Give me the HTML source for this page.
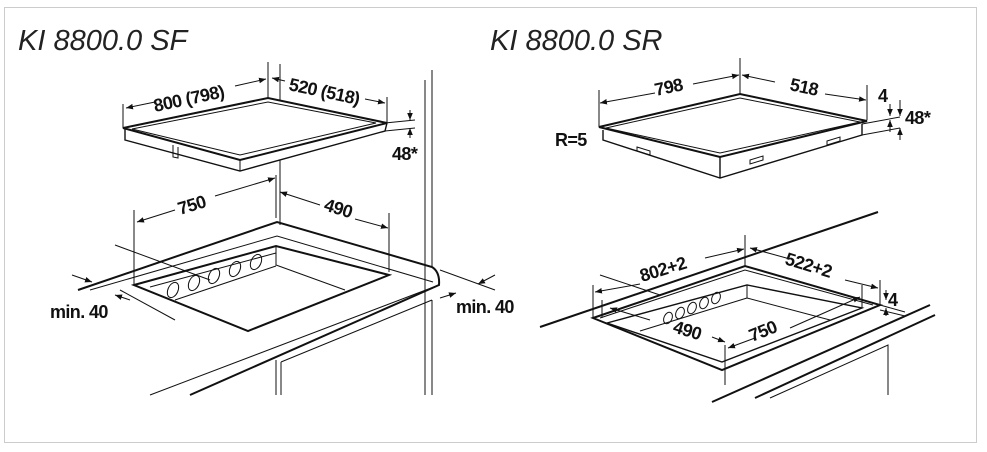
<!DOCTYPE html>
<html><head><style>
html,body{margin:0;padding:0;background:#fff;}
svg{display:block}
.t{font-family:"Liberation Sans",sans-serif;font-style:italic;font-size:29px;fill:#222;}
.b{font-family:"Liberation Sans",sans-serif;font-weight:bold;font-size:18px;letter-spacing:-0.6px;fill:#111;}
</style></head><body>
<svg width="987" height="452" viewBox="0 0 987 452" xmlns="http://www.w3.org/2000/svg">
<defs><marker id="a" viewBox="0 0 10 10" refX="10" refY="5" markerWidth="7" markerHeight="7" orient="auto-start-reverse"><path d="M0,1 L10,5 L0,9z" fill="#111"/></marker></defs>
<rect x="4.5" y="7.5" width="972" height="435" fill="none" stroke="#ccc"/>
<text class="t" x="18" y="50">KI 8800.0 SF</text>
<text class="t" x="490" y="50">KI 8800.0 SR</text>
<g stroke="#111" fill="none" stroke-width="1">
<!-- LEFT hob -->
<path d="M123,128 L268,98 L387,123 L240,160 Z" stroke-width="2"/>
<path d="M132,129 L268,102 L376,123 L240,155 Z"/>
<path d="M125,128 L125,140 L240,171 L385,131 L387,123" stroke-width="1.4"/>
<path d="M240,160 L240,171"/>
<path d="M173,145 L173,157 L178,158 L178,147"/>
<path d="M123,128 L123,104 M268,98 L268,62 M280,100 L280,64 M387,123 L387,97"/>
<path d="M155,102 L126,108" marker-end="url(#a)"/>
<path d="M235,86 L266,79" marker-end="url(#a)"/>
<path d="M285,81 L272,78" marker-end="url(#a)"/>
<path d="M365,99 L385,103" marker-end="url(#a)"/>
<path d="M385,123 L415,120 M385,131 L415,128"/>
<path d="M410,110 L410,120" marker-end="url(#a)"/>
<path d="M410,138 L410,128" marker-end="url(#a)"/>
<!-- Left lower -->
<path d="M280,160 L280,225 M276,175 L276,218"/>
<path d="M175,210 L137,222" marker-end="url(#a)"/>
<path d="M215,196 L275,178" marker-end="url(#a)"/>
<path d="M320,205 L280,192" marker-end="url(#a)"/>
<path d="M355,219 L388,228" marker-end="url(#a)"/>
<path d="M134,210 L134,285 M389,213 L389,272"/>
<path d="M78,290 L277,222 L432,267 Q440,272 439,285 L190,395" stroke-width="2"/>
<path d="M439,285 L150,395"/>
<path d="M90,290 L277,236 L433,282"/>
<path d="M134,285 L276,246 L389,275 L248,331 Z" stroke-width="2"/>
<path d="M150,287 L276,253 M276,246 L276,265 L345,290 M175,300 L276,266"/>
<path d="M115,245 L210,280 M120,290 L175,320"/>
<path d="M72,275 L92,282" marker-end="url(#a)"/>
<path d="M130,300 L115,295" marker-end="url(#a)"/>
<path d="M276,360 L276,395 M281,362 L281,395 M281,362 L432,300 M425,80 L425,395 M432,70 L432,268 M432,300 L432,395"/>
<path d="M440,270 L495,290"/>
<path d="M495,275 L478,284" marker-end="url(#a)"/>
<path d="M440,298 L456,293" marker-end="url(#a)"/>
<ellipse cx="173" cy="290" rx="5" ry="8" transform="rotate(25 173 290)"/>
<ellipse cx="194" cy="283" rx="5" ry="8" transform="rotate(25 194 283)"/>
<ellipse cx="214" cy="276" rx="5" ry="8" transform="rotate(25 214 276)"/>
<ellipse cx="235" cy="269" rx="5" ry="8" transform="rotate(25 235 269)"/>
<ellipse cx="256" cy="262" rx="5" ry="8" transform="rotate(25 256 262)"/>
<!-- RIGHT hob -->
<path d="M599,127 L740,94 L867,121 L720,157 Z" stroke-width="2"/>
<path d="M606,128 L740,98 L860,122 L720,153 Z"/>
<path d="M603,130 L603,140 L720,178 L862,135 L862,124 M720,157 L720,178" stroke-width="1.4"/>
<path d="M637,147 L650,151 L650,155 L637,151 Z M750,160 L763,156 L763,160 L750,164 Z M827,141 L840,137 L840,141 L827,145 Z"/>
<path d="M599,127 L599,90 M740,94 L740,58 M867,120 L867,85"/>
<path d="M655,93 L600,103" marker-end="url(#a)"/>
<path d="M693,84 L739,75" marker-end="url(#a)"/>
<path d="M775,82 L742,75" marker-end="url(#a)"/>
<path d="M825,94 L866,100" marker-end="url(#a)"/>
<path d="M862,124 L900,117 M862,135 L900,128"/>
<path d="M890,104 L890,116" marker-end="url(#a)"/>
<path d="M890,132 L890,120" marker-end="url(#a)"/>
<path d="M900,100 L900,116" marker-end="url(#a)"/>
<path d="M900,140 L900,128" marker-end="url(#a)"/>
<!-- Right lower -->
<path d="M540,327 L878,212" stroke-width="2"/>
<path d="M712,402 L930,305 M755,398 L935,315" stroke-width="2"/>
<path d="M770,398 L888,345 L888,395"/>
<path d="M593,318 L745,266 L880,305 L722,370 Z" stroke-width="2"/>
<path d="M600,318 L745,270 L873,305"/>
<path d="M607,323 L747,285 L862,308 L722,362 Z" stroke-width="1.4"/>
<path d="M747,285 L747,298 L830,320 M640,331 L747,298"/>
<path d="M593,318 L593,285 M745,266 L745,235 M880,305 L880,280 M602,318 L602,300"/>
<path d="M640,284 L595,292" marker-end="url(#a)"/>
<path d="M705,258 L744,249" marker-end="url(#a)"/>
<path d="M790,259 L750,248" marker-end="url(#a)"/>
<path d="M845,280 L878,288" marker-end="url(#a)"/>
<path d="M600,275 L660,295"/>
<path d="M650,320 L610,308" marker-end="url(#a)"/>
<path d="M712,337 L725,342" marker-end="url(#a)"/>
<path d="M725,345 L725,385 M862,285 L862,308"/>
<path d="M755,338 L728,348" marker-end="url(#a)"/>
<path d="M790,328 L860,297" marker-end="url(#a)"/>
<path d="M886,290 L886,300" marker-end="url(#a)"/>
<path d="M886,316 L886,308" marker-end="url(#a)"/>
<path d="M880,305 L905,312 M880,310 L905,316"/>
<ellipse cx="668" cy="318" rx="4" ry="6" transform="rotate(25 668 318)"/>
<ellipse cx="680" cy="313" rx="4" ry="6" transform="rotate(25 680 313)"/>
<ellipse cx="692" cy="308" rx="4" ry="6" transform="rotate(25 692 308)"/>
<ellipse cx="704" cy="303" rx="4" ry="6" transform="rotate(25 704 303)"/>
<ellipse cx="716" cy="298" rx="4" ry="6" transform="rotate(25 716 298)"/>
</g>
<text class="b" x="155" y="112" transform="rotate(-12 155 112)">800 (798)</text>
<text class="b" x="288" y="90" transform="rotate(12 288 90)">520 (518)</text>
<text class="b" x="392" y="160">48*</text>
<text class="b" x="180" y="215" transform="rotate(-17 180 215)">750</text>
<text class="b" x="323" y="210" transform="rotate(17 323 210)">490</text>
<text class="b" x="50" y="318">min. 40</text>
<text class="b" x="456" y="313">min. 40</text>
<text class="b" x="656" y="96" transform="rotate(-12 656 96)">798</text>
<text class="b" x="789" y="90" transform="rotate(12 789 90)">518</text>
<text class="b" x="555" y="146">R=5</text>
<text class="b" x="878" y="102">4</text>
<text class="b" x="905" y="124">48*</text>
<text class="b" x="642" y="282" transform="rotate(-17 642 282)">802+2</text>
<text class="b" x="784" y="264" transform="rotate(17 784 264)">522+2</text>
<text class="b" x="888" y="306">4</text>
<text class="b" x="672" y="332" transform="rotate(17 672 332)">490</text>
<text class="b" x="752" y="342" transform="rotate(-22 752 342)">750</text>
</svg>
</body></html>
